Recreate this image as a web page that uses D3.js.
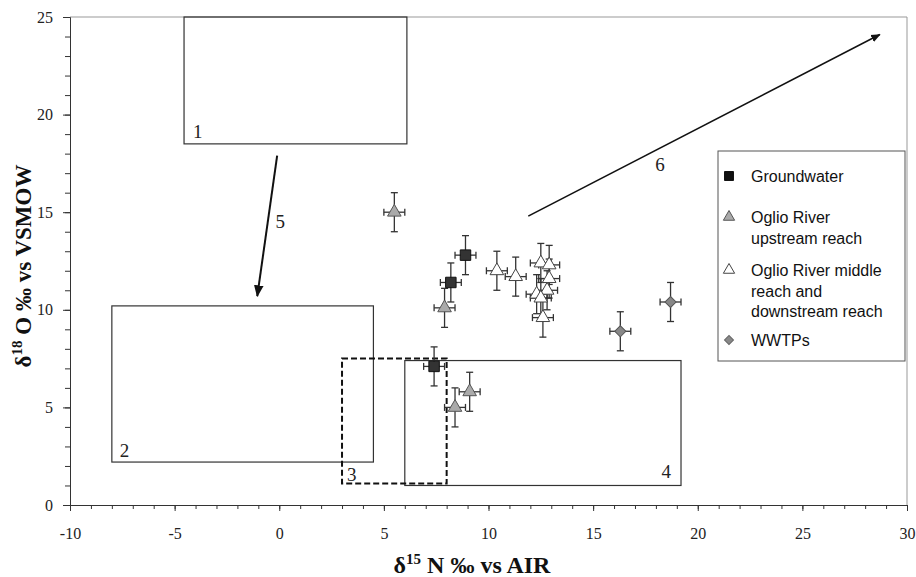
<!DOCTYPE html>
<html>
<head>
<meta charset="utf-8">
<script src="https://cdn.jsdelivr.net/npm/d3@7"></script>
<style>
  body { margin: 0; background: #fff; }
  .legend text { font-family: "Liberation Sans", Arial, sans-serif; font-size: 16px; fill: #111; }
</style>
</head>
<body>
<div id="chart"></div>
<script>
// data
var gwX = [8.9, 8.2, 7.4];
var gwY = [12.8, 11.4, 7.1];
var upX = [5.5, 7.9, 9.1, 8.4];
var upY = [15.0, 10.1, 5.8, 5.0];
var midX = [10.4, 11.3, 12.5, 12.9, 12.9, 12.8, 12.3, 12.5, 12.6];
var midY = [12.0, 11.7, 12.4, 12.3, 11.6, 11.0, 10.8, 10.6, 9.6];
var wwX = [18.7, 16.3];
var wwY = [10.4, 8.9];
var xErr = 0.5, yErr = 1.0;

// source boxes: [x0, x1, y0, y1, label]
var boxes = [
  [-4.55, 6.1, 18.5, 25, "1"],
  [-8.0, 4.5, 2.2, 10.2, "2"],
  [6.0, 19.2, 1.0, 7.4, "4"]
];
var dashBox = [3.0, 8.0, 1.1, 7.5, "3"];
// arrows: [x0, y0, x1, y1, label, labelX, labelY]
var arrows = [
  [-0.1, 17.9, -1.05, 10.7, "5", 0.05, 14.2],
  [11.9, 14.8, 28.7, 24.1, "6", 18.2, 17.1]
];
var xTicks = [-10, -5, 0, 5, 10, 15, 20, 25, 30];
var yTicks = [0, 5, 10, 15, 20, 25];

var svgWidth = 916, svgHeight = 577;
var svg = d3.select("#chart").append("svg")
    .attr("width", svgWidth)
    .attr("height", svgHeight);

var xScale = d3.scaleLinear().domain([-10, 30]).range([70, 907]);
var yScale = d3.scaleLinear().domain([0, 25]).range([505, 17]);

// frame top / right
svg.append("line").attr("x1", 70).attr("x2", 907).attr("y1", 17).attr("y2", 17)
    .attr("stroke", "#999").attr("stroke-width", 1);
svg.append("line").attr("x1", 907).attr("x2", 907).attr("y1", 17).attr("y2", 505)
    .attr("stroke", "#999").attr("stroke-width", 1);

// minor ticks
var minorX = d3.range(-10, 31, 1), minorY = d3.range(0, 26, 1);
svg.append("g").attr("transform", "translate(0,505)")
    .call(d3.axisBottom(xScale).tickValues(minorX).tickSize(4).tickFormat(""))
    .call(g => g.selectAll("line,path").attr("stroke", "#333"));
svg.append("g").attr("transform", "translate(70,0)")
    .call(d3.axisLeft(yScale).tickValues(minorY).tickSize(5).tickFormat(""))
    .call(g => g.selectAll("line,path").attr("stroke", "#333"));

// major ticks + labels
var xAxis = svg.append("g").attr("transform", "translate(0,505)")
    .call(d3.axisBottom(xScale).tickValues(xTicks).tickSize(6).tickPadding(17)
      .tickSizeOuter(0).tickFormat(d => String(d)));
xAxis.select(".domain").remove();
xAxis.selectAll("line").attr("stroke", "#333");
var yAxis = svg.append("g").attr("transform", "translate(70,0)")
    .call(d3.axisLeft(yScale).tickValues(yTicks).tickSize(7).tickPadding(10)
      .tickSizeOuter(0).tickFormat(d => String(d)));
yAxis.select(".domain").remove();
yAxis.selectAll("line").attr("stroke", "#333");
svg.selectAll(".tick text")
    .style("font-family", "Liberation Serif, serif")
    .style("font-size", "16px")
    .attr("fill", "#222");

// boxes
boxes.forEach(function (b) {
  svg.append("rect")
      .attr("x", xScale(b[0])).attr("y", yScale(b[3]))
      .attr("width", xScale(b[1]) - xScale(b[0]))
      .attr("height", yScale(b[2]) - yScale(b[3]))
      .attr("fill", "none").attr("stroke", "#333").attr("stroke-width", 1.2);
});
svg.append("rect")
    .attr("x", xScale(dashBox[0])).attr("y", yScale(dashBox[3]))
    .attr("width", xScale(dashBox[1]) - xScale(dashBox[0]))
    .attr("height", yScale(dashBox[2]) - yScale(dashBox[3]))
    .attr("fill", "none").attr("stroke", "#111").attr("stroke-width", 2)
    .attr("stroke-dasharray", "6,3");

var numFont = "Liberation Serif, serif";
function boxLabel(txt, x, y, anchor) {
  svg.append("text").attr("x", x).attr("y", y).attr("text-anchor", anchor)
      .style("font-family", numFont).style("font-size", "19px").attr("fill", "#222")
      .text(txt);
}
boxLabel("1", xScale(boxes[0][0]) + 9, yScale(boxes[0][2]) - 6, "start");
boxLabel("2", xScale(boxes[1][0]) + 8, yScale(boxes[1][2]) - 5, "start");
boxLabel("4", xScale(boxes[2][1]) - 10, yScale(boxes[2][2]) - 7, "end");
boxLabel("3", xScale(dashBox[0]) + 5, yScale(dashBox[2]) - 3, "start");

// arrows
svg.append("defs").append("marker")
    .attr("id", "head").attr("viewBox", "0 0 10 10")
    .attr("refX", 9).attr("refY", 5)
    .attr("markerWidth", 6).attr("markerHeight", 6)
    .attr("orient", "auto")
    .append("path").attr("d", "M0,1 L10,5 L0,9 Z").attr("fill", "#111");
arrows.forEach(function (a, i) {
  svg.append("line")
      .attr("x1", xScale(a[0])).attr("y1", yScale(a[1]))
      .attr("x2", xScale(a[2])).attr("y2", yScale(a[3]))
      .attr("stroke", "#111").attr("stroke-width", i == 0 ? 2 : 1.6)
      .attr("marker-end", "url(#head)");
  svg.append("text").attr("x", xScale(a[5])).attr("y", yScale(a[6]))
      .attr("text-anchor", "middle")
      .style("font-family", numFont).style("font-size", "19px").attr("fill", "#222")
      .text(a[4]);
});

// error bars
function errorBars(xs, ys) {
  var g = svg.append("g").attr("stroke", "#333").attr("stroke-width", 1.3);
  xs.forEach(function (x, i) {
    var y = ys[i];
    var cx = xScale(x), cy = yScale(y);
    g.append("line").attr("x1", cx).attr("x2", cx).attr("y1", yScale(y - yErr)).attr("y2", yScale(y + yErr));
    g.append("line").attr("x1", cx - 3.5).attr("x2", cx + 3.5).attr("y1", yScale(y - yErr)).attr("y2", yScale(y - yErr));
    g.append("line").attr("x1", cx - 3.5).attr("x2", cx + 3.5).attr("y1", yScale(y + yErr)).attr("y2", yScale(y + yErr));
    g.append("line").attr("x1", xScale(x - xErr)).attr("x2", xScale(x + xErr)).attr("y1", cy).attr("y2", cy);
    g.append("line").attr("x1", xScale(x - xErr)).attr("x2", xScale(x - xErr)).attr("y1", cy - 3.5).attr("y2", cy + 3.5);
    g.append("line").attr("x1", xScale(x + xErr)).attr("x2", xScale(x + xErr)).attr("y1", cy - 3.5).attr("y2", cy + 3.5);
  });
}
errorBars(gwX, gwY);
errorBars(upX, upY);
errorBars(midX, midY);
errorBars(wwX, wwY);

var sq = d3.symbol().type(d3.symbolSquare).size(110);
var tri = d3.symbol().type(d3.symbolTriangle).size(80);
var dia = d3.symbol().type(d3.symbolSquare).size(62);

function points(xs, ys, sym, fill, stroke, rot) {
  svg.append("g").selectAll("path")
      .data(xs.map((x, i) => [x, ys[i]]))
      .enter().append("path")
      .attr("d", sym)
      .attr("transform", d => `translate(${xScale(d[0])},${yScale(d[1])}) rotate(${rot || 0})`)
      .attr("fill", fill).attr("stroke", stroke).attr("stroke-width", 1);
}
points(midX, midY, tri, "#fff", "#444");
points(upX, upY, tri, "#aaa", "#555");
points(gwX, gwY, sq, "#333", "#111");
points(wwX, wwY, dia, "#888", "#555", 45);

// legend
var legend = svg.append("g").attr("class", "legend");
legend.append("rect").attr("x", 718).attr("y", 151).attr("width", 187).attr("height", 210)
    .attr("fill", "#fff").attr("stroke", "#555").attr("stroke-width", 1);
var legItems = [
  { sym: d3.symbol().type(d3.symbolSquare).size(80), fill: "#111", stroke: "#111", y: 176, rot: 0, lines: ["Groundwater"] },
  { sym: d3.symbol().type(d3.symbolTriangle).size(55), fill: "#aaa", stroke: "#555", y: 217, rot: 0, lines: ["Oglio River", "upstream reach"] },
  { sym: d3.symbol().type(d3.symbolTriangle).size(55), fill: "#fff", stroke: "#444", y: 270, rot: 0, lines: ["Oglio River middle", "reach and", "downstream reach"] },
  { sym: d3.symbol().type(d3.symbolSquare).size(40), fill: "#888", stroke: "#666", y: 340, rot: 45, lines: ["WWTPs"] }
];
legItems.forEach(function (it) {
  legend.append("path").attr("d", it.sym)
      .attr("transform", `translate(729,${it.y}) rotate(${it.rot})`)
      .attr("fill", it.fill).attr("stroke", it.stroke);
  it.lines.forEach(function (ln, j) {
    legend.append("text").attr("x", 751).attr("y", it.y + 6 + j * 20.5).text(ln);
  });
});

// axis titles
var xt = svg.append("text").attr("x", 472).attr("y", 573).attr("text-anchor", "middle")
    .style("font-family", "Liberation Serif, serif").style("font-weight", "bold")
    .style("font-size", "24px").attr("fill", "#111");
xt.append("tspan").text("δ");
xt.append("tspan").attr("dy", -9).style("font-size", "15px").text("15");
xt.append("tspan").attr("dy", 9).text(" N ‰ vs AIR");

var yt = svg.append("text").attr("transform", "translate(31,266) rotate(-90)")
    .attr("text-anchor", "middle")
    .style("font-family", "Liberation Serif, serif").style("font-weight", "bold")
    .style("font-size", "23px").attr("fill", "#111");
yt.append("tspan").text("δ");
yt.append("tspan").attr("dy", -9).style("font-size", "15px").text("18");
yt.append("tspan").attr("dy", 9).text(" O ‰ vs VSMOW");
</script>
</body>
</html>
